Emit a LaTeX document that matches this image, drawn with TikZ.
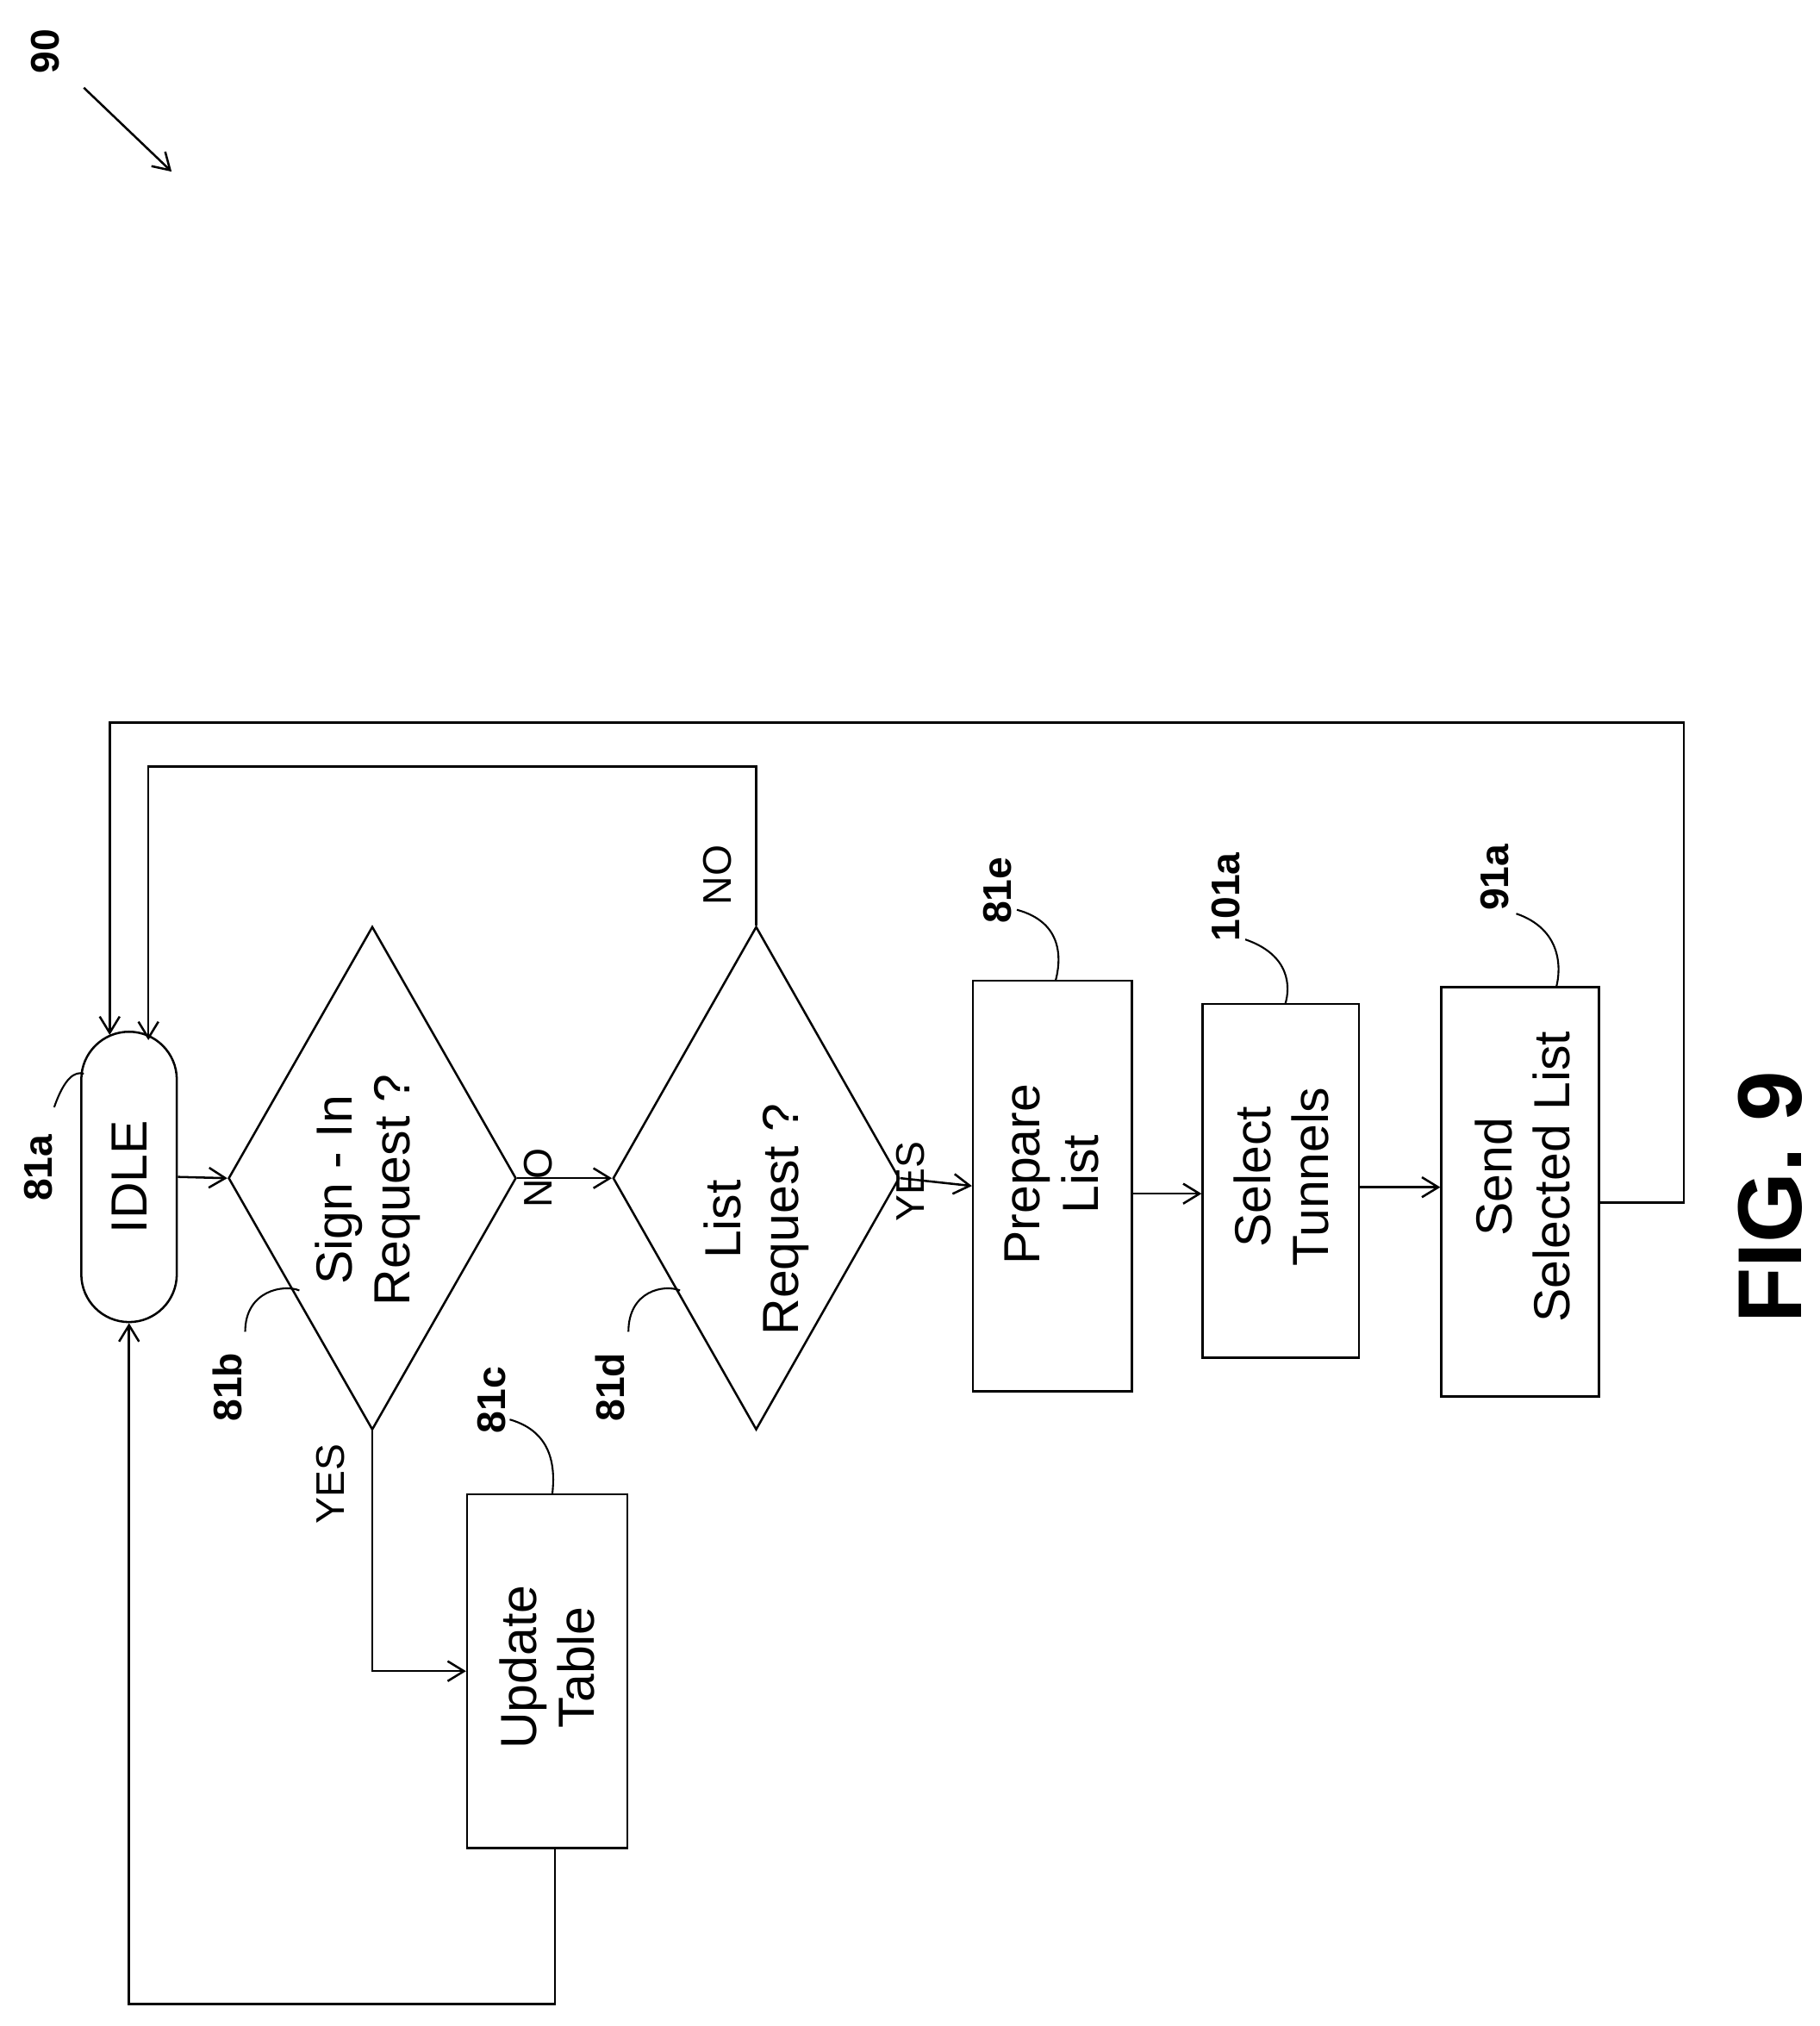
\documentclass[tikz,border=0pt]{standalone}
\usepackage{fontspec}
\setmainfont{Liberation Sans}
\usetikzlibrary{shapes.geometric,arrows.meta}
\begin{document}
\begin{tikzpicture}[x=0.05cm,y=-0.05cm,line width=2.4pt,
  box/.style={draw,rectangle,inner sep=0pt},
  dia/.style={draw,diamond,inner sep=0pt},
  txt/.style={rotate=90,align=center,font=\fontsize{56}{64}\selectfont},
  lbl/.style={rotate=90,font=\bfseries\fontsize{44}{50}\selectfont},
  arr/.style={-{Straight Barb[length=18pt,width=22pt,line width=2.4pt]}},
  lead/.style={line width=2pt}]
\useasboundingbox (0,0) rectangle (1410,1570);
\node[box,rounded corners=1.85cm,minimum width=3.7cm,minimum height=11.25cm] (idle) at (100,912) {};
\node[txt] at (100,912) {IDLE};
\node[dia,minimum width=11.15cm,minimum height=19.5cm] (d1) at (288.5,913) {};
\node[txt] at (285,922) {Sign - In\\Request ?};
\node[dia,minimum width=11.1cm,minimum height=19.5cm] (d2) at (586,913) {};
\node[txt] at (586,945) {List\\Request ?};
\node[box,minimum width=6.15cm,minimum height=15.9cm] (prep) at (815.5,919) {};
\node[txt] at (815,910) {Prepare\\List};
\node[box,minimum width=6.05cm,minimum height=13.7cm] (sel) at (992.5,915) {};
\node[txt] at (993,912) {Select\\Tunnels};
\node[box,minimum width=6.1cm,minimum height=15.85cm] (send) at (1178,923.5) {};
\node[txt] at (1180,912) {Send\\Selected List};
\node[box,minimum width=6.2cm,minimum height=13.7cm] (upd) at (424,1295) {};
\node[txt] at (424,1292) {Update\\Table};
% labels
\node[lbl] (l90) at (35,40) {90};
\coordinate (a90) at (133,133);
\draw[arr] (65,68) -- (a90);
\node[lbl] (l81a) at (30,905) {81a};
\draw[lead] (42,858) .. controls (50,835) and (58,830) .. (65,832);
\node[lbl] (l81b) at (176,1075) {81b};
\draw[lead] (190,1032) .. controls (190,1000) and (220,995) .. (232,1000);
\node[lbl] (l81d) at (473,1075) {81d};
\draw[lead] (487,1032) .. controls (487,1000) and (515,995) .. (527,1000);
\node[lbl] (l81c) at (381,1085) {81c};
\draw[lead] (395,1100) .. controls (430,1110) and (430,1140) .. (428,1158);
\node[lbl] (l81e) at (773,690) {81e};
\draw[lead] (788,705) .. controls (825,715) and (822,745) .. (818,760);
\node[lbl] (l101a) at (950,695) {101a};
\draw[lead] (965,728) .. controls (1000,740) and (1000,765) .. (996,778);
\node[lbl] (l91a) at (1158,680) {91a};
\draw[lead] (1175,708) .. controls (1210,720) and (1210,750) .. (1206,765);
\node[rotate=90,font=\bfseries\fontsize{100}{110}\selectfont] (fig) at (1372,928) {FIG. 9};
% connectors
\draw[arr] (idle.east) -- (d1.west);
\draw[arr] (d1.east) -- node[txt,above=4pt,pos=0.45,font=\fontsize{44}{50}\selectfont]{NO} (d2.west);
\draw[arr] (d2.east) -- node[txt,above=4pt,pos=0.45,font=\fontsize{44}{50}\selectfont]{YES} (prep.west);
\draw[arr] (prep.east |- 0,925) -- (sel.west |- 0,925);
\draw[arr] (sel.east |- 0,920) -- (send.west |- 0,920);
\draw[arr] (send.east |- 0,932) -- (1305,932) -- (1305,560) -- (85,560) -- (85,802);
\draw[arr] (d2.north) -- (586,594) -- (115,594) -- (115,806);
\node[txt,font=\fontsize{44}{50}\selectfont] at (556,678) {NO};
\draw[arr] (d1.south) -- (288.5,1295) -- (upd.west);
\node[txt,font=\fontsize{44}{50}\selectfont] at (256,1150) {YES};
\draw[arr] (430,1432) -- (430,1553) -- (100,1553) -- (idle.south);
\end{tikzpicture}
\end{document}
